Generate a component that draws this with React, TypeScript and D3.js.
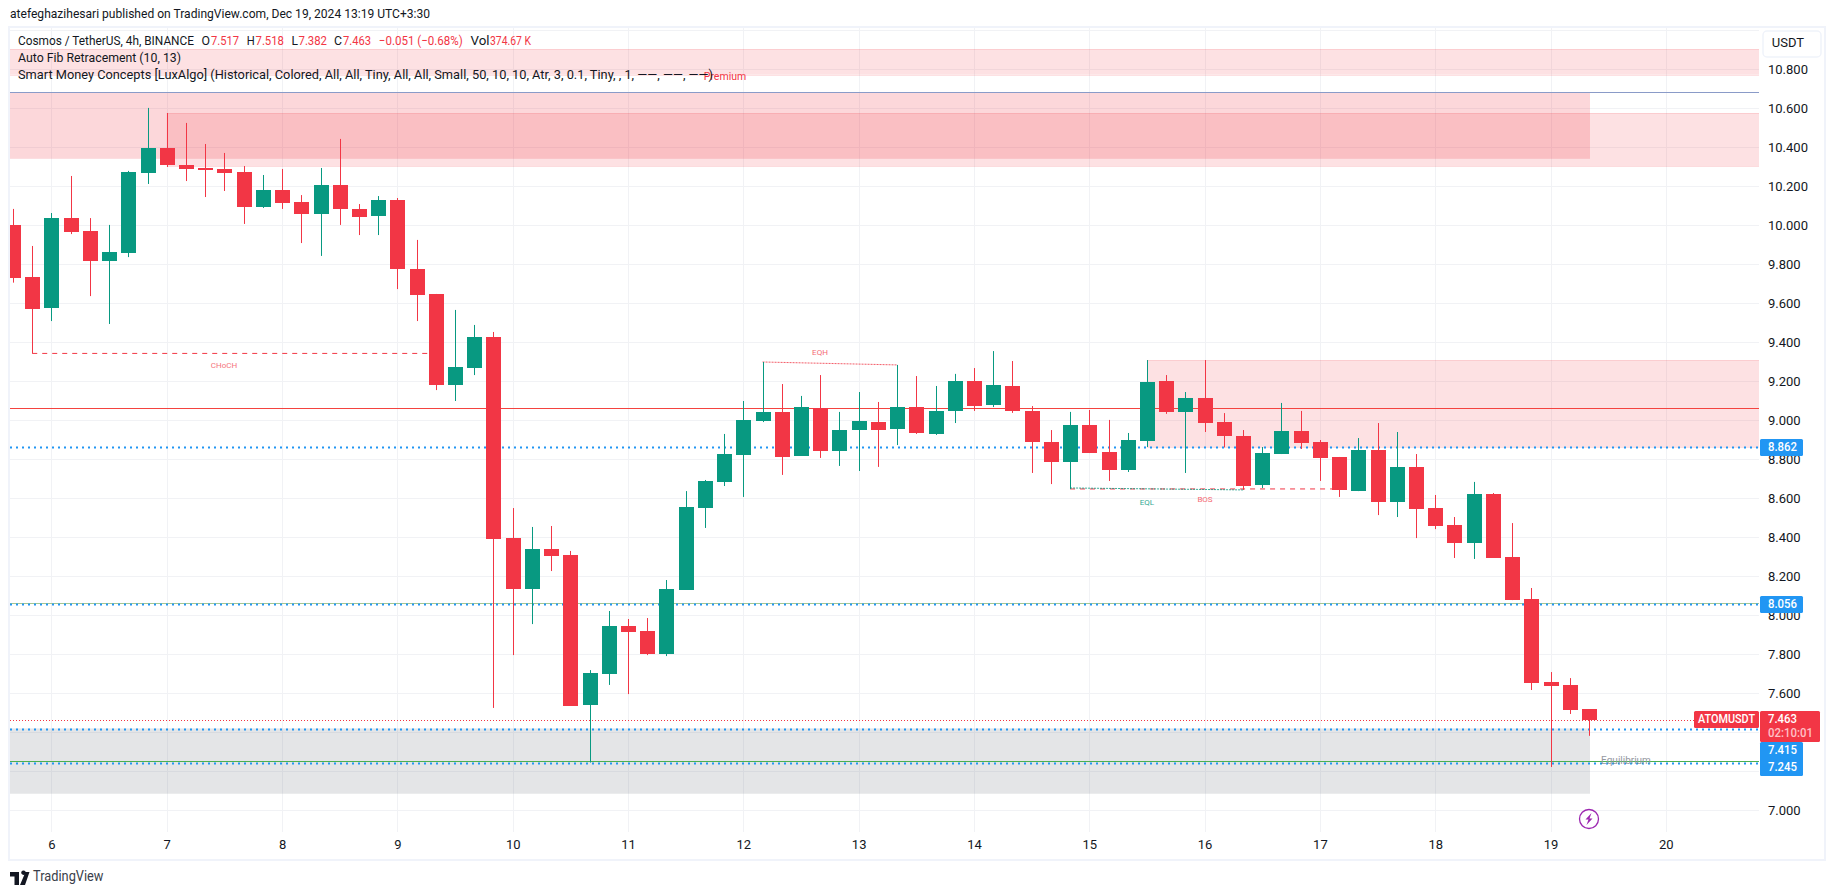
import { useEffect, useRef } from 'react';
import * as d3 from 'd3';

// candles, 4h ATOMUSDT
const opens = [10.002, 9.735, 9.576, 10.037, 9.971, 9.817, 9.858, 10.268, 10.396, 10.309, 10.294, 10.289, 10.273, 10.094, 10.181, 10.119, 10.058, 10.207, 10.084, 10.048, 10.130, 9.776, 9.648, 9.181, 9.268, 9.427, 8.396, 8.135, 8.340, 8.309, 7.540, 7.699, 7.945, 7.919, 7.801, 8.130, 8.550, 8.684, 8.822, 8.997, 9.043, 8.817, 9.061, 8.843, 8.950, 8.991, 8.955, 9.068, 8.930, 9.048, 9.202, 9.079, 9.176, 9.048, 8.889, 8.786, 8.976, 8.837, 8.745, 8.894, 9.202, 9.043, 9.114, 8.991, 8.919, 8.668, 8.827, 8.945, 8.889, 8.812, 8.637, 8.848, 8.581, 8.761, 8.550, 8.463, 8.371, 8.622, 8.299, 8.084, 7.658, 7.643, 7.517];
const highs = [10.084, 9.894, 10.063, 10.253, 10.037, 10.002, 10.279, 10.602, 10.576, 10.525, 10.417, 10.371, 10.304, 10.258, 10.289, 10.155, 10.294, 10.443, 10.109, 10.150, 10.140, 9.925, 9.648, 9.566, 9.489, 9.453, 8.550, 8.453, 8.458, 8.330, 7.719, 8.022, 7.981, 7.986, 8.181, 8.637, 8.694, 8.930, 9.099, 9.299, 9.186, 9.125, 9.232, 9.043, 9.145, 9.094, 9.284, 9.227, 9.176, 9.238, 9.268, 9.355, 9.304, 9.073, 8.950, 9.043, 9.053, 9.002, 8.935, 9.309, 9.232, 9.145, 9.309, 9.037, 8.950, 8.863, 9.089, 9.048, 8.899, 8.812, 8.909, 8.986, 8.940, 8.827, 8.617, 8.504, 8.684, 8.627, 8.473, 8.140, 7.709, 7.678, 7.518];
const lows = [9.706, 9.343, 9.509, 9.955, 9.637, 9.494, 9.837, 10.212, 10.299, 10.227, 10.145, 10.176, 10.007, 10.089, 10.084, 9.909, 9.843, 10.002, 9.950, 9.950, 9.673, 9.509, 9.155, 9.099, 9.232, 7.525, 7.796, 7.955, 8.227, 7.535, 7.245, 7.643, 7.596, 7.796, 7.791, 8.130, 8.448, 8.663, 8.607, 8.991, 8.720, 8.817, 8.807, 8.766, 8.740, 8.761, 8.873, 8.930, 8.925, 8.986, 9.048, 9.068, 9.038, 8.730, 8.673, 8.648, 8.832, 8.689, 8.735, 8.863, 9.033, 8.730, 8.940, 8.861, 8.643, 8.653, 8.827, 8.853, 8.689, 8.607, 8.637, 8.514, 8.504, 8.396, 8.442, 8.294, 8.289, 8.294, 8.078, 7.617, 7.222, 7.494, 7.382];
const closes = [9.731, 9.571, 10.037, 9.966, 9.817, 9.863, 10.273, 10.396, 10.309, 10.289, 10.284, 10.268, 10.094, 10.181, 10.114, 10.058, 10.207, 10.084, 10.043, 10.130, 9.776, 9.643, 9.181, 9.273, 9.427, 8.391, 8.135, 8.340, 8.304, 7.535, 7.704, 7.945, 7.914, 7.801, 8.135, 8.555, 8.689, 8.827, 9.002, 9.043, 8.812, 9.068, 8.843, 8.950, 8.997, 8.950, 9.068, 8.935, 9.048, 9.202, 9.073, 9.181, 9.048, 8.889, 8.786, 8.976, 8.832, 8.745, 8.899, 9.196, 9.043, 9.114, 8.986, 8.919, 8.663, 8.832, 8.945, 8.884, 8.807, 8.643, 8.848, 8.581, 8.761, 8.545, 8.458, 8.371, 8.622, 8.294, 8.078, 7.655, 7.637, 7.514, 7.463];

const gridPrices = [7, 7.2, 7.4, 7.6, 7.8, 8, 8.2, 8.4, 8.6, 8.8, 9, 9.2, 9.4, 9.6, 9.8, 10, 10.2, 10.4, 10.6, 10.8, 11];
// 7.200 and 7.400 sit under the price tags, so they never show
const axisPrices = [7, 7.6, 7.8, 8, 8.2, 8.4, 8.6, 8.8, 9, 9.2, 9.4, 9.6, 9.8, 10, 10.2, 10.4, 10.6, 10.8];
const dayBars = [2, 8, 14, 20, 26, 32, 38, 44, 50, 56, 62, 68, 74, 80, 86];
const dayLabels = ['6', '7', '8', '9', '10', '11', '12', '13', '14', '15', '16', '17', '18', '19', '20'];

const legendParts = ['Cosmos / TetherUS, 4h, BINANCE', 'O', '7.517', 'H', '7.518', 'L', '7.382', 'C', '7.463', '−0.051 (−0.68%)', 'Vol', '374.67 K'];
const legendLine2 = 'Auto Fib Retracement (10, 13)';
const legendLine3 = 'Smart Money Concepts [LuxAlgo] (Historical, Colored, All, All, Tiny, All, All, Small, 50, 10, 10, Atr, 3, 0.1, Tiny, , 1, ——, ——, ——)';
const headerText = 'atefeghazihesari published on TradingView.com, Dec 19, 2024 13:19 UTC+3:30';

const FONT = 'Roboto, sans-serif';
const GREEN = '#089981';
const RED = '#f23645';
const BLUE = '#2196f3';
const FRAME = '#f0f3fa';
const GRID = '#f1f2f5';
const INK = '#131722';

const App: React.FC = () => {
  const svgRef = useRef(null);

  useEffect(() => {
    const width = 1835;
    const height = 895;
    const left = 10;
    const right = 1759;
    const top = 28;
    const bottom = 859;
    const gridBottom = 832;

    const svg = d3.select(svgRef.current);
    svg.selectAll('*').remove();
    svg.attr('width', width).attr('height', height).style('font-family', FONT);

    const x = d3.scaleLinear().domain([0, 82]).range([13, 1589]);
    const y = d3.scaleLinear().domain([7, 11]).range([810.3, 30.3]);
    const px = (v: number) => Math.round(y(v)) + 0.5;

    svg.append('rect').attr('width', width).attr('height', height).attr('fill', '#ffffff');

    svg.append('defs').append('clipPath').attr('id', 'pane')
      .append('rect').attr('x', left).attr('y', top).attr('width', right - left).attr('height', gridBottom - top);

    // frame
    svg.append('rect')
      .attr('x', left - 1).attr('y', top - 1).attr('width', 1825 - left + 1).attr('height', bottom - top + 2)
      .attr('fill', 'none').attr('stroke', FRAME).attr('stroke-width', 2);

    // grid
    svg.append('g').selectAll('line').data(gridPrices).enter().append('line')
      .attr('x1', left).attr('x2', right).attr('y1', (d) => px(d)).attr('y2', (d) => px(d))
      .attr('stroke', GRID);
    svg.append('g').selectAll('line').data(dayBars).enter().append('line')
      .attr('x1', (d) => Math.round(x(d)) + 0.5).attr('x2', (d) => Math.round(x(d)) + 0.5)
      .attr('y1', top).attr('y2', gridBottom)
      .attr('stroke', GRID);

    const pane = svg.append('g').attr('clip-path', 'url(#pane)');

    const zone = (x0: number, x1: number, hi: number, lo: number, fill: string, edge?: string) => {
      pane.append('rect').attr('x', x0).attr('y', y(hi)).attr('width', x1 - x0).attr('height', y(lo) - y(hi)).attr('fill', fill);
      if (edge) {
        [hi, lo].forEach((v) => {
          pane.append('line').attr('x1', x0).attr('x2', x1).attr('y1', px(v)).attr('y2', px(v)).attr('stroke', edge);
        });
      }
    };
    const zoneEnd = x(82) + 1;
    zone(left, right, 10.903, 10.772, 'rgba(242,54,69,0.15)', 'rgba(242,54,69,0.15)');
    zone(left, zoneEnd, 10.682, 10.341, 'rgba(242,54,69,0.2)');
    zone(x(8), right, 10.576, 10.302, 'rgba(242,54,69,0.15)', 'rgba(242,54,69,0.12)');
    zone(x(59), right, 9.309, 8.862, 'rgba(242,54,69,0.15)', 'rgba(242,54,69,0.12)');
    zone(left, zoneEnd, 7.42, 7.085, 'rgba(120,123,134,0.2)');

    const hline = (v: number, stroke: string, w: number, dash?: string) => {
      const l = pane.append('line').attr('x1', left).attr('x2', right).attr('y1', px(v)).attr('y2', px(v))
        .attr('stroke', stroke).attr('stroke-width', w);
      if (dash) l.attr('stroke-dasharray', dash);
    };
    hline(10.682, '#8a9bc8', 1);
    hline(9.062, '#f4433f', 1);
    hline(8.862, BLUE, 2, '2 4');
    hline(8.062, '#a5c792', 1);
    hline(8.056, BLUE, 2, '2 4');
    hline(7.463, RED, 1, '1 2');
    hline(7.415, BLUE, 2, '2 4');
    hline(7.254, '#4caf50', 1);
    hline(7.245, BLUE, 2, '2 4');

    // structure lines
    const segment = (i0: number, v0: number, i1: number, v1: number, stroke: string, dash: string, op = 1) => {
      pane.append('line').attr('x1', x(i0)).attr('x2', x(i1)).attr('y1', y(v0)).attr('y2', y(v1))
        .attr('stroke', stroke).attr('stroke-dasharray', dash).attr('opacity', op);
    };
    segment(1, 9.343, 22, 9.343, RED, '5 5');
    segment(55, 8.648, 69, 8.648, RED, '5 5');
    segment(39, 9.299, 46, 9.284, RED, '2 1', 0.8);
    segment(55, 8.653, 64, 8.643, GREEN, '2 1', 0.8);

    // candles
    const candles = pane.append('g').selectAll('g').data(d3.range(opens.length)).enter().append('g')
      .attr('fill', (i) => (closes[i] >= opens[i] ? GREEN : RED));
    candles.append('rect')
      .attr('x', (i) => Math.round(x(i)))
      .attr('width', 1)
      .attr('y', (i) => y(highs[i]))
      .attr('height', (i) => y(lows[i]) - y(highs[i]));
    candles.append('rect')
      .attr('x', (i) => Math.round(x(i)) - 7)
      .attr('width', 15)
      .attr('y', (i) => Math.round(y(Math.max(opens[i], closes[i]))))
      .attr('height', (i) => Math.max(1, Math.round(y(Math.min(opens[i], closes[i])) - y(Math.max(opens[i], closes[i])))));

    // small labels on the pane
    const smallLabel = (tx: number, ty: number, s: string, fill: string, size: number, op: number) => {
      pane.append('text').attr('x', tx).attr('y', ty).attr('text-anchor', 'middle').attr('dominant-baseline', 'middle')
        .style('font-size', `${size}px`).attr('fill', fill).attr('opacity', op).text(s);
    };
    smallLabel(224, 366, 'CHoCH', RED, 8, 0.7);
    smallLabel(820, 353, 'EQH', RED, 8, 0.75);
    smallLabel(1147, 503, 'EQL', GREEN, 8, 0.85);
    smallLabel(1205, 500, 'BOS', RED, 8, 0.75);
    smallLabel(725, 77, 'Premium', RED, 10.5, 1);
    smallLabel(1626, 761, 'Equilibrium', '#9598a1', 10, 1);

    // alert icon
    const bolt = svg.append('g').attr('transform', `translate(${x(82)},819)`);
    bolt.append('circle').attr('r', 9.5).attr('fill', '#ffffff').attr('stroke', '#9c27b0').attr('stroke-width', 1.3);
    bolt.append('path').attr('d', 'M2.5,-6 L-3.5,0.5 L-0.5,0.5 L-2.5,6 L3.5,-0.5 L0.5,-0.5 Z').attr('fill', '#9c27b0');

    // price axis
    const yAxis = d3.axisRight(y).tickValues(axisPrices).tickSize(0).tickPadding(0).tickFormat(d3.format('.3f'));
    svg.append('g')
      .attr('transform', 'translate(1768,0)')
      .call(yAxis)
      .call((g) => g.select('.domain').remove())
      .call((g) => g.selectAll('text').style('font-family', FONT).style('font-size', '13px').attr('fill', INK));

    // time axis
    const xAxis = d3.axisBottom(x).tickValues(dayBars).tickSize(0).tickPadding(0)
      .tickFormat((d, i) => dayLabels[i]);
    svg.append('g')
      .attr('transform', 'translate(0,840)')
      .call(xAxis)
      .call((g) => g.select('.domain').remove())
      .call((g) => g.selectAll('text').style('font-family', FONT).style('font-size', '13px').attr('fill', INK));

    // USDT button
    svg.append('rect').attr('x', 1763).attr('y', 31).attr('width', 58).attr('height', 26).attr('rx', 4)
      .attr('fill', '#ffffff').attr('stroke', FRAME).attr('stroke-width', 1.5);
    svg.append('text').attr('x', 1788).attr('y', 44).attr('text-anchor', 'middle').attr('dominant-baseline', 'middle')
      .style('font-size', '13px').attr('fill', INK).text('USDT');

    // price tags
    const tag = (x0: number, y0: number, w: number, h: number, fill: string) => {
      svg.append('rect').attr('x', x0).attr('y', y0).attr('width', w).attr('height', h).attr('rx', 1.5).attr('fill', fill);
    };
    const tagText = (tx: number, ty: number, s: string, fill: string, fit: number) => {
      svg.append('text').attr('x', tx).attr('y', ty).attr('dominant-baseline', 'middle')
        .attr('textLength', fit).attr('lengthAdjust', 'spacingAndGlyphs')
        .style('font-size', '13px').style('font-weight', 500).attr('fill', fill).text(s);
    };
    tag(1694, 711, 65, 17, RED);
    tagText(1698, 720, 'ATOMUSDT', '#ffffff', 57);
    tag(1760, 711, 60, 31, RED);
    tagText(1768, 720, '7.463', '#ffffff', 29);
    tagText(1768, 734, '02:10:01', '#ffc0c5', 45);
    tag(1760, 742, 43, 34, BLUE);
    tagText(1768, 751, '7.415', '#ffffff', 29);
    tagText(1768, 768, '7.245', '#ffffff', 29);
    tag(1760, 439, 43, 17, BLUE);
    tagText(1768, 448, '8.862', '#ffffff', 29);
    tag(1760, 596, 43, 17, BLUE);
    tagText(1768, 605, '8.056', '#ffffff', 29);

    // header and legend, stretched to the widths in the picture
    const line = (tx: number, ty: number, s: string, fit: number) => {
      svg.append('text').attr('x', tx).attr('y', ty).attr('dominant-baseline', 'middle')
        .attr('textLength', fit).attr('lengthAdjust', 'spacingAndGlyphs')
        .style('font-size', '13px').attr('fill', INK).text(s);
    };
    line(10, 15, headerText, 420);
    line(18, 59, legendLine2, 163);
    line(18, 76, legendLine3, 695);

    const partX = [18, 201.5, 211, 246.7, 255.5, 291.4, 298.5, 334, 343, 378.8, 470.5, 490];
    const partFit = [176, 8.5, 28, 8, 28.5, 6.5, 28.5, 8, 28, 84, 19, 41];
    legendParts.forEach((s, i) => {
      svg.append('text').attr('x', partX[i]).attr('y', 42).attr('dominant-baseline', 'middle')
        .attr('textLength', partFit[i]).attr('lengthAdjust', 'spacingAndGlyphs')
        .style('font-size', '13px')
        .attr('fill', s === 'O' || s === 'H' || s === 'L' || s === 'C' || s === 'Vol' || i === 0 ? INK : RED)
        .text(s);
    });

    // TradingView mark
    svg.append('path')
      .attr('d', 'M10,872 H19 V885 H14.5 V876.5 H10 Z M23.5,875 a2.3,2.3 0 1 1 0.01,0 Z M25,885 H20 L25.5,872 H29.5 Z')
      .attr('fill', INK);
    svg.append('text').attr('x', 33).attr('y', 877).attr('dominant-baseline', 'middle')
      .attr('textLength', 70.5).attr('lengthAdjust', 'spacingAndGlyphs')
      .style('font-size', '14px').attr('fill', '#3a3e4a').text('TradingView');
  }, []);

  return <svg ref={svgRef} style={{ position: 'absolute', top: 0, left: 0, display: 'block' }} />;
};

export default App;
